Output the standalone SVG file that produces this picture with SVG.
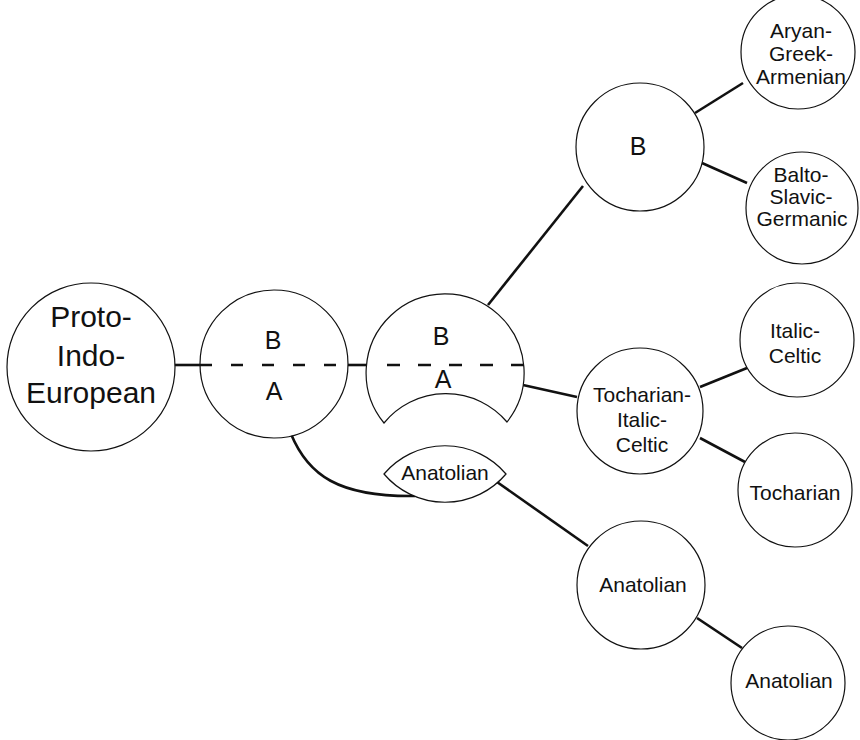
<svg xmlns="http://www.w3.org/2000/svg" width="860" height="740" viewBox="0 0 860 740">
<style>
.n{fill:#fff;stroke:#111;stroke-width:1.2}
.c{fill:none;stroke:#111;stroke-width:2.6}
.d{fill:none;stroke:#111;stroke-width:2.6;stroke-dasharray:12 19}
text{font-family:"Liberation Sans",Arial,sans-serif;font-size:21px;fill:#111;text-anchor:middle}
.big{font-size:30px}
.l{font-size:25px}
</style>
<rect width="860" height="740" fill="#fff"/>
<g id="connectors">
<line class="c" x1="174" y1="365" x2="201" y2="365"/>
<line class="c" x1="347" y1="365" x2="367" y2="365"/>
<line class="c" x1="488" y1="305" x2="583" y2="186"/>
<line class="c" x1="695" y1="113" x2="743" y2="83"/>
<line class="c" x1="702" y1="163" x2="747" y2="183"/>
<line class="c" x1="523" y1="385" x2="577" y2="397"/>
<line class="c" x1="700" y1="387" x2="747" y2="368"/>
<line class="c" x1="700" y1="438" x2="745" y2="462"/>
<path class="c" d="M291,434 C308,475 338,497 415,496"/>
<line class="c" x1="497" y1="482" x2="588" y2="546"/>
<line class="c" x1="697" y1="618" x2="742" y2="648"/>
</g>
<g id="pie">
<circle class="n" cx="91" cy="367" r="84"/>
<text class="big" x="91" y="327">Proto-</text>
<text class="big" x="91" y="366">Indo-</text>
<text class="big" x="91" y="403">European</text>
</g>
<g id="ba1">
<circle class="n" cx="274" cy="364" r="74"/>
<line class="d" x1="200" y1="365" x2="348" y2="365"/>
<text class="l" x="273" y="349">B</text>
<text class="l" x="274" y="400">A</text>
</g>
<g id="ba2">
<path class="n" d="M384,423 A79,79 0 1 1 507,422 A80,80 0 0 0 384,423 Z"/>
<line class="d" x1="387" y1="365" x2="524" y2="365" style="stroke-dasharray:13 18"/>
<text class="l" x="441" y="345">B</text>
<text class="l" x="443" y="388">A</text>
</g>
<g id="anatolian-lens">
<path class="n" d="M384,474 A80,80 0 0 1 506,474 A80,80 0 0 1 384,474 Z"/>
<text x="445" y="480">Anatolian</text>
</g>
<g id="b">
<circle class="n" cx="640" cy="147" r="64"/>
<text class="l" x="638" y="155">B</text>
</g>
<g id="aga">
<circle class="n" cx="798" cy="52" r="57"/>
<text x="801" y="38">Aryan-</text>
<text x="801" y="61">Greek-</text>
<text x="801" y="84">Armenian</text>
</g>
<g id="bsg">
<circle class="n" cx="802" cy="208" r="56"/>
<text x="801" y="182">Balto-</text>
<text x="801" y="204">Slavic-</text>
<text x="802" y="226">Germanic</text>
</g>
<g id="tic">
<circle class="n" cx="640" cy="411" r="63"/>
<text x="642" y="402">Tocharian-</text>
<text x="642" y="427">Italic-</text>
<text x="642" y="452">Celtic</text>
</g>
<g id="ic">
<circle class="n" cx="797" cy="340" r="57"/>
<text x="795" y="338">Italic-</text>
<text x="795" y="363">Celtic</text>
</g>
<g id="tocharian">
<circle class="n" cx="795" cy="490" r="57"/>
<text x="795" y="500">Tocharian</text>
</g>
<g id="anatolian1">
<circle class="n" cx="641" cy="585" r="64"/>
<text x="643" y="592">Anatolian</text>
</g>
<g id="anatolian2">
<circle class="n" cx="788" cy="683" r="57"/>
<text x="789" y="688">Anatolian</text>
</g>
</svg>
